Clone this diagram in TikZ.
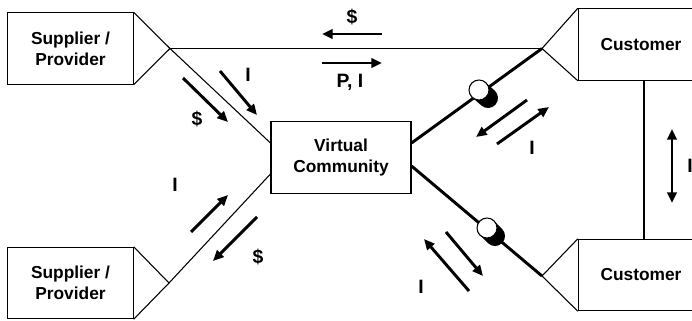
\documentclass[tikz,border=0pt]{standalone}
\usepackage{fontspec}
\setmainfont{Liberation Sans}
\usetikzlibrary{arrows.meta,calc}

\begin{document}
\begin{tikzpicture}[x=0.75pt,y=-0.75pt,
   box/.style={rectangle,draw,line width=0.8pt,minimum width=94pt,
    minimum height=53.5pt,inner sep=0pt,align=center,
    font=\fontsize{13}{16}\selectfont\bfseries},
   lbl/.style={inner sep=0pt,font=\fontsize{14.5}{17}\selectfont\bfseries},
   flow/.style={line width=2.2pt,-{Triangle[length=8pt,width=7pt]}},
   link/.style={line width=0.8pt},
   trunk/.style={line width=2.2pt}
    ]
  \useasboundingbox (0,0) rectangle (692,321);

  % -- boxes
  \node[box] at (70.5,48.5) (sup1) {Supplier /\\Provider};
  \node[box] at (70.5,283) (sup2) {Supplier /\\Provider};
  \node[box,minimum width=105pt] at (341,157.5) (vc) {Virtual\\Community};
  \node[box] at (641,44.5) (cus1) {Customer};
  \node[box] at (641,275) (cus2) {Customer};

  % -- tips of the triangles
  \coordinate (s1) at (170,48.5);
  \coordinate (s2) at (169,283);
  \coordinate (c1) at (542,48.5);
  \coordinate (c2) at (542,276);

  \draw[link] (sup1.north east) -- (s1) -- (sup1.south east);
  \draw[link] (sup2.north east) -- (s2) -- (sup2.south east);
  \draw[link] (cus1.north west) -- (c1) -- (cus1.south west);
  \draw[link] (cus2.north west) -- (c2) -- (cus2.south west);

  % -- lines
  \draw[link] (s1) -- (c1);
  \draw[link] (s1) -- ($(vc.west)+(0,-14.5)$);
  \draw[link] (s2) -- ($(vc.west)+(0,16.5)$);
  \draw[trunk] ($(vc.east)+(0,-14.5)$) -- (c1);
  \draw[trunk] ($(vc.east)+(0,8.5)$) -- (c2);
  \draw[link] (cus1.south -| 644,0) -- (cus2.north -| 644,0);

  % -- balls
  \draw[line width=15pt,line cap=round] (479,90) -- (488,98);
  \draw[line width=0.8pt,fill=white] (479,90) circle (7.5pt);
  \draw[line width=15pt,line cap=round] (487,228) -- (495,236);
  \draw[line width=0.8pt,fill=white] (487,228) circle (7.5pt);

  % -- arrows
  \draw[flow] (382,34) -- (322,34);
  \draw[flow] (322,63) -- (382,63);
  \draw[flow] (183,78) -- (228,122);
  \draw[flow] (220,71) -- (257,115);
  \draw[flow] (191,232) -- (228,195);
  \draw[flow] (257,217) -- (213,261);
  \draw[flow] (527,100) -- (476,137);
  \draw[flow] (497,144) -- (549,107);
  \draw[flow] (469,291) -- (424,239);
  \draw[flow] (446,232) -- (483,276);
  \draw[flow,{Triangle[length=8pt,width=7pt]}-{Triangle[length=8pt,width=7pt]}]
    (672,129) -- (672,203);

  % -- labels
  \node[lbl] at (352,17) (l1) {\$};
  \node[lbl] at (350,82) (l2) {P, I};
  \node[lbl] at (248,75) (l3) {I};
  \node[lbl] at (197,119) (l4) {\$};
  \node[lbl] at (175,185) (l5) {I};
  \node[lbl] at (258,257) (l6) {\$};
  \node[lbl] at (532,148) (l7) {I};
  \node[lbl] at (421,287) (l8) {I};
  \node[lbl,anchor=west] at (687,166) (l9) {I};

\end{tikzpicture}
\end{document}
